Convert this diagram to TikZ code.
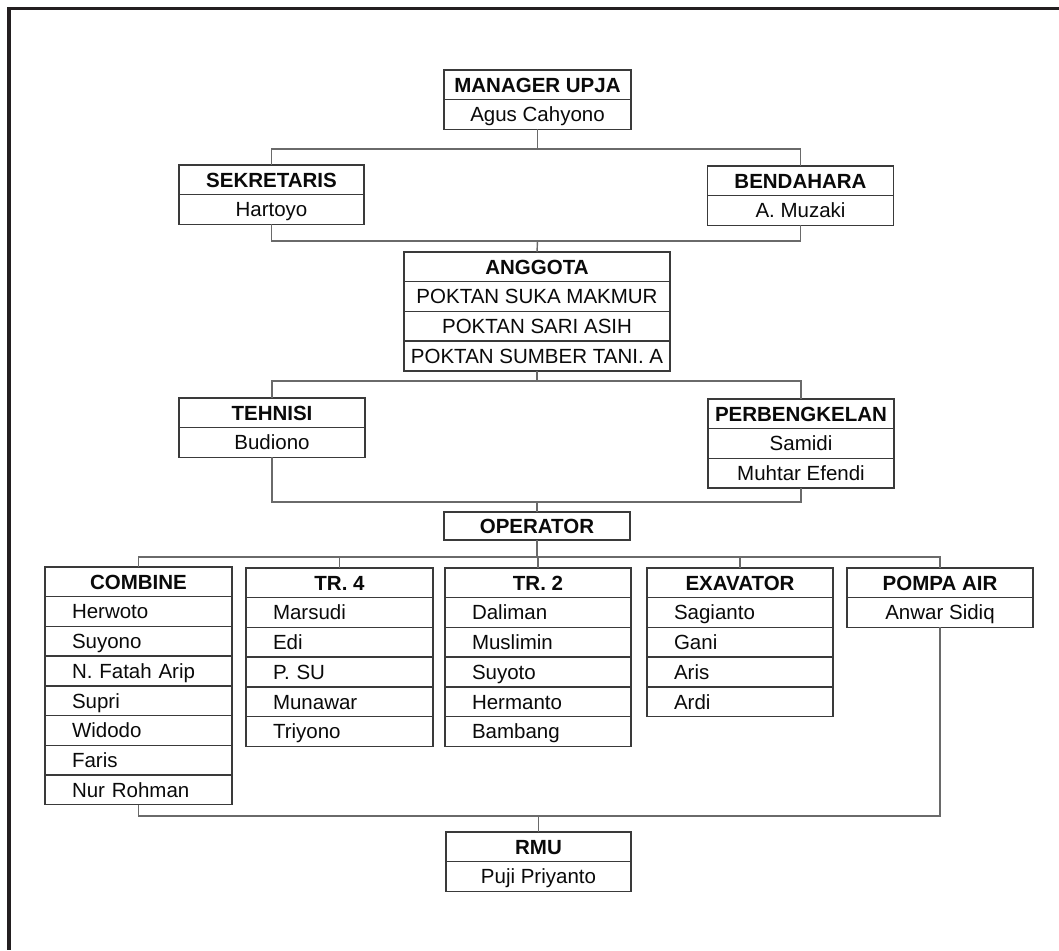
\documentclass[tikz,border=0pt]{standalone}
\usepackage{fontspec}
\setmainfont{Liberation Sans}
\usetikzlibrary{positioning}
\definecolor{boxc}{HTML}{3A3A3A}
\definecolor{linec}{HTML}{6A6A6A}
\definecolor{framec}{HTML}{231F20}
\definecolor{txtc}{HTML}{0A0A0A}
\newcommand{\fsz}{\fontsize{20.5}{23}\selectfont}
\tikzset{
  cell/.style={draw=boxc, line width=1.4pt, outer sep=0pt, inner ysep=0pt,
    minimum height=29.7, text=txtc, text height=14.7, text depth=0pt, anchor=north},
  hd/.style={cell, minimum width=#1, inner xsep=0pt, font=\fsz\bfseries},
  nm/.style={cell, minimum width=#1, inner xsep=0pt, font=\fsz},
  it/.style={cell, text width=#1, inner xsep=27pt, align=left, font=\fsz},
  conn/.style={draw=linec, line width=1.4pt},
}
\begin{document}
\begin{tikzpicture}[x=1pt,y=-1pt]
\useasboundingbox (0,0) rectangle (1059,950);
\fill[white] (0,0) rectangle (1059,950);
\draw[framec, line width=3.5pt] (1059,8.5) -- (9,8.5) -- (9,950);

% top
\node[hd=187] (mgr) at (537.5,70) {MANAGER UPJA};
\node[nm=187, below=0pt of mgr] (mgr1) {Agus Cahyono};

\node[hd=185] (sek) at (271.5,165) {SEKRETARIS};
\node[nm=185, below=0pt of sek] (sek1) {Hartoyo};

\node[hd=186] (bend) at (800.5,166) {BENDAHARA};
\node[nm=186, below=0pt of bend] (bend1) {A. Muzaki};

\node[hd=266] (ang) at (537,252) {ANGGOTA};
\node[nm=266, below=0pt of ang] (ang1) {POKTAN SUKA MAKMUR};
\node[nm=266, below=0pt of ang1] (ang2) {POKTAN SARI ASIH};
\node[nm=266, below=0pt of ang2] (ang3) {POKTAN SUMBER TANI. A};

\node[hd=186] (teh) at (272,398) {TEHNISI};
\node[nm=186, below=0pt of teh] (teh1) {Budiono};

\node[hd=186] (perb) at (801,399) {PERBENGKELAN};
\node[nm=186, below=0pt of perb] (perb1) {Samidi};
\node[nm=186, below=0pt of perb1] (perb2) {Muhtar Efendi};

\node[hd=186, minimum height=28] (op) at (537,512) {OPERATOR};

% columns
\node[hd=187] (comb) at (138.5,567) {COMBINE};
\node[it=133, below=0pt of comb] (comb1) {Herwoto};
\node[it=133, below=0pt of comb1] (comb2) {Suyono};
\node[it=133, below=0pt of comb2] (comb3) {N. Fatah Arip};
\node[it=133, below=0pt of comb3] (comb4) {Supri};
\node[it=133, below=0pt of comb4] (comb5) {Widodo};
\node[it=133, below=0pt of comb5] (comb6) {Faris};
\node[it=133, below=0pt of comb6] (comb7) {Nur Rohman};

\node[hd=187] (tra) at (339.5,568) {TR. 4};
\node[it=133, below=0pt of tra] (tra1) {Marsudi};
\node[it=133, below=0pt of tra1] (tra2) {Edi};
\node[it=133, below=0pt of tra2] (tra3) {P. SU};
\node[it=133, below=0pt of tra3] (tra4) {Munawar};
\node[it=133, below=0pt of tra4] (tra5) {Triyono};

\node[hd=186] (trb) at (538,568) {TR. 2};
\node[it=132, below=0pt of trb] (trb1) {Daliman};
\node[it=132, below=0pt of trb1] (trb2) {Muslimin};
\node[it=132, below=0pt of trb2] (trb3) {Suyoto};
\node[it=132, below=0pt of trb3] (trb4) {Hermanto};
\node[it=132, below=0pt of trb4] (trb5) {Bambang};

\node[hd=186] (exa) at (740,568) {EXAVATOR};
\node[it=132, below=0pt of exa] (exa1) {Sagianto};
\node[it=132, below=0pt of exa1] (exa2) {Gani};
\node[it=132, below=0pt of exa2] (exa3) {Aris};
\node[it=132, below=0pt of exa3] (exa4) {Ardi};

\node[hd=186] (pom) at (940,568) {POMPA AIR};
\node[nm=186, below=0pt of pom] (pom1) {Anwar Sidiq};

\node[hd=185] (rmu) at (538.5,832) {RMU};
\node[nm=185, below=0pt of rmu] (rmu1) {Puji Priyanto};

% junctions
\coordinate (b1) at (537.5,149);
\coordinate (b2) at (537.5,241);
\coordinate (b3) at (537,381);
\coordinate (b4) at (537,502);
\coordinate (b5) at (537,557);
\coordinate (b6) at (538.5,816);

% connectors
\draw[conn] (mgr1.south) -- (b1);
\draw[conn] (sek.north) |- (b1) -| (bend.north);
\draw[conn] (sek1.south) |- (b2) -| (bend1.south);
\draw[conn] (b2) -- (ang.north);
\draw[conn] (ang3.south) -- (b3);
\draw[conn] (teh.north) |- (b3) -| (perb.north);
\draw[conn] (teh1.south) |- (b4) -| (perb2.south);
\draw[conn] (b4) -- (op.north);
\draw[conn] (op.south) -- (b5);
\draw[conn] (comb.north) |- (b5) -| (pom.north);
\draw[conn] (tra.north) -- (tra.north |- b5);
\draw[conn] (trb.north) -- (trb.north |- b5);
\draw[conn] (exa.north) -- (exa.north |- b5);
\draw[conn] (comb7.south) |- (b6) -| (pom1.south);
\draw[conn] (b6) -- (rmu.north);
\end{tikzpicture}
\end{document}
